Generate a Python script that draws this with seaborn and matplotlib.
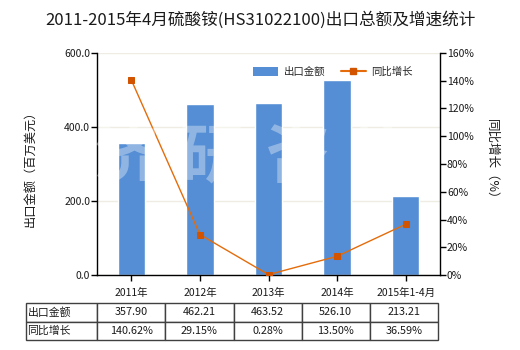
import numpy as np
import pandas as pd
import matplotlib
matplotlib.use("Agg")
import matplotlib.pyplot as plt
import seaborn as sns
from matplotlib.patches import Patch
from matplotlib.lines import Line2D
from matplotlib.ticker import FuncFormatter, FixedLocator

categories = ["2011年", "2012年", "2013年", "2014年", "2015年1-4月"]
export_values = [357.90, 462.21, 463.52, 526.10, 213.21]
growth_values = [140.62, 29.15, 0.28, 13.50, 36.59]
export_labels = ["357.90", "462.21", "463.52", "526.10", "213.21"]
growth_labels = ["140.62%", "29.15%", "0.28%", "13.50%", "36.59%"]
series_names = ["出口金额", "同比增长"]
title = "2011-2015年4月硫酸铵(HS31022100)出口总额及增速统计"
watermark = "济研咨询"

sns.set_theme(style="white")
plt.rcParams['font.family'] = ['Noto Sans CJK SC', 'DejaVu Sans']

BAR = "#558ED5"
LINE = "#E46C0A"
MARK = "#D35400"
TXT = "#1a1a1a"

df = pd.DataFrame({"cat": categories, "val": export_values, "g": growth_values})

fig = plt.figure(figsize=(5.2, 3.5), dpi=100)
ax = fig.add_axes([97/520, 1-275/350, 343/520, 222/350])
ax2 = ax.twinx()

sns.barplot(data=df, x="cat", y="val", ax=ax, color=BAR, width=0.4, saturation=1, zorder=2)
ax.set_ylim(0, 600)
ax.yaxis.set_major_locator(FixedLocator([0, 200, 400, 600]))
ax.yaxis.set_major_formatter(FuncFormatter(lambda v, p: f"{v:.1f}"))
ax.grid(axis="y", color="#EFEDE3", linewidth=1, zorder=0)
ax.set_axisbelow(True)

sns.pointplot(data=df, x="cat", y="g", ax=ax2, color=LINE, markers="s",
              errorbar=None, linewidth=1, markersize=4.5,
              markerfacecolor=MARK, markeredgecolor=MARK)
ax2.set_ylim(0, 160)
ax2.yaxis.set_major_locator(FixedLocator(list(range(0, 161, 20))))
ax2.yaxis.set_major_formatter(FuncFormatter(lambda v, p: f"{v:.0f}%"))
ax.set_xlim(-0.5, 4.5)
ax2.set_xlim(-0.5, 4.5)

for a in (ax, ax2):
    a.set_xlabel("")
    a.set_ylabel("")
    for s in a.spines.values():
        s.set_visible(False)
ax.spines["left"].set_visible(True)
ax.spines["bottom"].set_visible(True)
ax2.spines["right"].set_visible(True)
for s in (ax.spines["left"], ax.spines["bottom"], ax2.spines["right"]):
    s.set_color("black")
    s.set_linewidth(1)

ax.tick_params(axis="y", left=True, length=4, width=1, color="black", labelsize=7.5, labelcolor=TXT, pad=1)
ax.tick_params(axis="x", bottom=True, length=4, width=1, color="black", labelsize=7.5, labelcolor=TXT, pad=5)
ax2.tick_params(axis="y", right=True, length=4, width=1, color="black", labelsize=7.5, labelcolor=TXT, pad=1)

fig.text(30/520, 1-166/350, "出口金额（百万美元）", rotation=90, ha="center", va="center", fontsize=8.8, color=TXT)
fig.text(492/520, 1-162/350, "同比增长（%）", rotation=-90, ha="center", va="center", fontsize=9, color=TXT)
fig.text(0.5, 1-20/350, title, ha="center", va="center", fontsize=12, color=TXT)

handles = [Patch(facecolor=BAR, edgecolor="none"),
           Line2D([0], [0], color=LINE, lw=1.5, marker="s", markersize=4.5,
                  markerfacecolor=MARK, markeredgecolor=MARK)]
ax.legend(handles, series_names, loc="center", bbox_to_anchor=((333-97)/343, (275-72)/222),
          ncol=2, frameon=False, fontsize=7.5, handlelength=2.4, handleheight=1.0,
          columnspacing=1.5, handletextpad=0.5)

# watermark, one glyph at a time
wm_x = [126, 212, 298, 386]
for ch, xc in zip(watermark, wm_x):
    fig.text(xc/520, 1-158/350, ch, ha="center", va="center", fontsize=46,
             fontweight="heavy", color="white", alpha=0.35, zorder=10)

# table
cell_text = [[series_names[0]] + export_labels, [series_names[1]] + growth_labels]
x0 = (26-97)/343
x1 = (438-97)/343
y0 = (275-340)/222
y1 = (275-303)/222
col_w = [71] + [68]*5
tbl = ax.table(cellText=cell_text, cellLoc="center", colWidths=[w/sum(col_w) for w in col_w],
               bbox=[x0, y0, x1-x0, y1-y0])
tbl.auto_set_font_size(False)
for (r, c), cell in tbl.get_celld().items():
    cell.set_edgecolor("#404040")
    cell.set_linewidth(1)
    cell.set_facecolor("white")
    cell.get_text().set_fontsize(7.8)
    cell.get_text().set_color(TXT)
    if c == 0:
        cell.get_text().set_ha("left")
        cell.PAD = 0.02

fig.savefig("out.png", dpi=100)
